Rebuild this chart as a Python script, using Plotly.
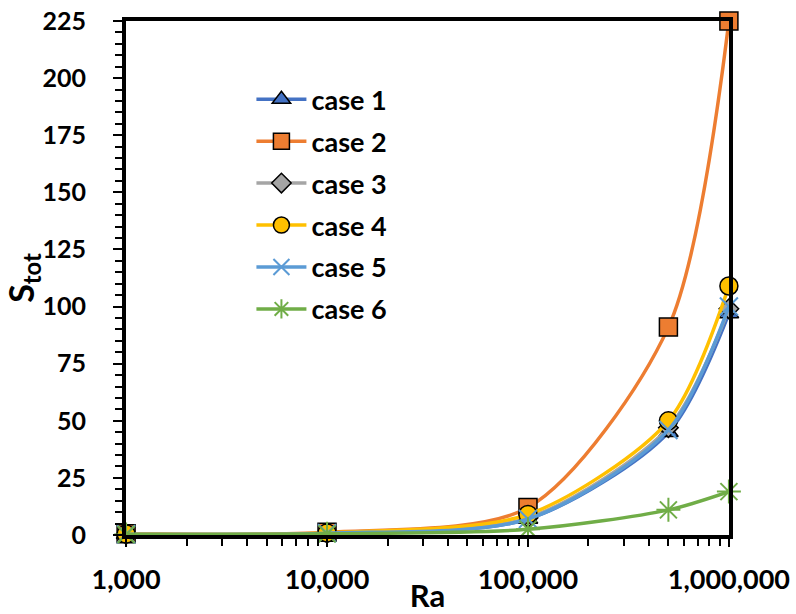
import plotly.graph_objects as go

ra = [1000, 10000, 100000, 500000, 1000000]
case1 = [0.3, 0.8, 7, 45, 97]
case2 = [0.5, 1.2, 12, 91, 225]
case3 = [0.3, 0.8, 7.5, 47, 99]
case4 = [0.4, 0.9, 9, 50, 109]
case5 = [0.3, 0.8, 7, 46, 100]
case6 = [0.2, 0.5, 2.5, 11, 19]
names = ["case 1", "case 2", "case 3", "case 4", "case 5", "case 6"]
xtick_vals = [1000, 10000, 100000, 1000000]
xtick_text = ["1,000", "10,000", "100,000", "1,000,000"]

series = [case1, case2, case3, case4, case5, case6]
colors = ["#4472C4", "#ED7D31", "#A5A5A5", "#FFC000", "#5B9BD5", "#70AD47"]
symbols = ["triangle-up", "square", "diamond", "circle", "x-thin-open", "asterisk-open"]
sizes = [17, 18, 15, 18, 18, 20]

FONT = "Lato"
legend_ids = ["legend", "legend2", "legend3", "legend4", "legend5", "legend6"]

fig = go.Figure()
for i, (name, ys, c, s, sz) in enumerate(zip(names, series, colors, symbols, sizes)):
    if s.endswith("open"):
        marker = dict(symbol=s, size=sz, color=c, line=dict(color=c, width=2))
    else:
        marker = dict(symbol=s, size=sz, color=c, line=dict(color="black", width=1.5))
    fig.add_trace(go.Scatter(
        x=ra, y=ys, name=name, mode="lines+markers",
        line=dict(color=c, width=3.5, shape="spline", smoothing=0.8),
        marker=marker, cliponaxis=False, legend=legend_ids[i],
    ))

legend_style = dict(
    x=0.208, xanchor="left", yanchor="middle",
    font=dict(size=27, family=FONT, weight="bold", color="black"),
    bgcolor="rgba(0,0,0,0)", itemwidth=50, borderwidth=0,
)
legend_layout = {}
for i, lid in enumerate(legend_ids):
    legend_layout[lid] = dict(legend_style, y=0.847 - i * 0.0816)

fig.update_layout(
    width=796, height=614,
    margin=dict(l=126, r=67, t=21, b=79, autoexpand=False),
    plot_bgcolor="white", paper_bgcolor="white",
    font=dict(family=FONT, color="black"),
    showlegend=True,
    xaxis=dict(
        type="log", range=[2.9995, 6.0005], automargin=False,
        tickvals=xtick_vals, ticktext=xtick_text,
        tickfont=dict(size=27, family=FONT, weight="bold"),
        ticks="outside", ticklen=8, tickwidth=2, tickcolor="black",
        ticklabelstandoff=10,
        minor=dict(ticks="outside", ticklen=7, tickwidth=2, tickcolor="black",
                   tickvals=[b * m for b in [1000, 10000, 100000] for m in range(2, 10)]),
        showline=True, linecolor="black", linewidth=4, mirror=True,
        showgrid=False, zeroline=False,
        title=dict(text="Ra", font=dict(size=31, family=FONT, weight="bold"), standoff=9),
    ),
    yaxis=dict(
        range=[0, 225], dtick=25, automargin=False,
        tickfont=dict(size=25, family=FONT, weight="bold"),
        ticks="outside", ticklen=9, tickwidth=2, tickcolor="black",
        ticklabelstandoff=22,
        minor=dict(ticks="outside", dtick=5, ticklen=7, tickwidth=2, tickcolor="black"),
        showline=True, linecolor="black", linewidth=4, mirror=True,
        showgrid=False, zeroline=False,
        title=dict(text="S<sub>tot</sub>", font=dict(size=34, family=FONT, weight="bold"), standoff=0),
    ),
    **legend_layout,
)

fig.write_html("out.html")
